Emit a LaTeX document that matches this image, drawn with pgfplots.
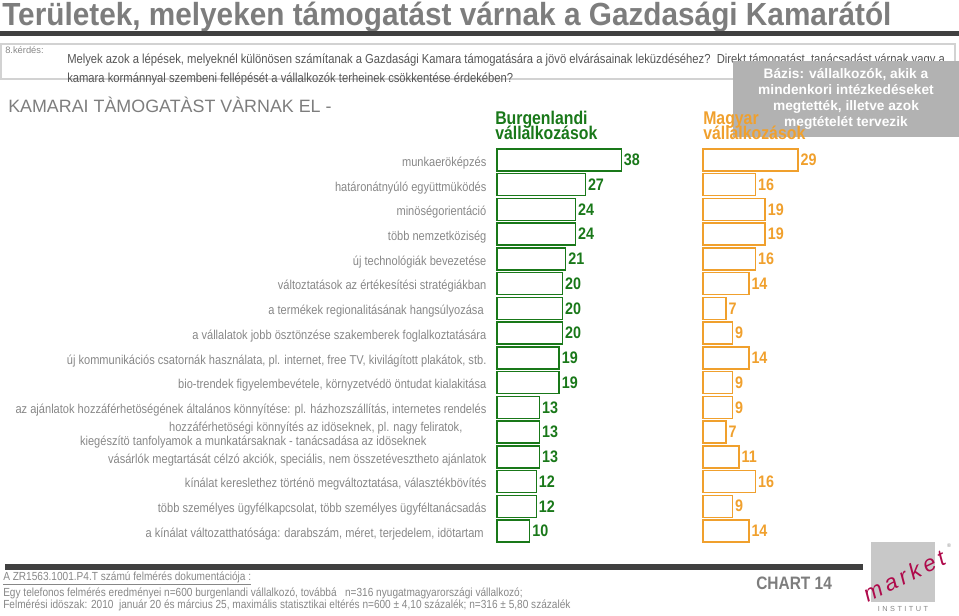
\documentclass[border=0pt]{standalone}
\usepackage{pgfplots}
\pgfplotsset{compat=1.18}
\usepackage{fontspec}
\setmainfont{Liberation Sans}
\newfontfamily\narrow[FakeStretch=0.86]{Liberation Sans}
\newfontfamily\titlefont[FakeStretch=0.93]{Liberation Sans}

\definecolor{titlegray}{RGB}{125,125,125}
\definecolor{darkbar}{RGB}{64,64,64}
\definecolor{labgray}{RGB}{135,135,135}
\definecolor{qgray}{RGB}{85,85,85}
\definecolor{boxgray}{RGB}{178,178,178}
\definecolor{gcol}{RGB}{25,120,25}
\definecolor{ocol}{RGB}{240,160,45}
\definecolor{logogray}{RGB}{200,200,200}
\definecolor{logored}{RGB}{175,10,75}

% values, top row first
\pgfplotstableread{
row burg magy
1  38 29
2  27 16
3  24 19
4  24 19
5  21 16
6  20 14
7  20 7
8  20 9
9  19 14
10 19 9
11 13 9
12 13 7
13 13 11
14 12 16
15 12 9
16 10 14
}\datatab

\pgfplotsset{
  panel/.style={
    anchor=north west,
    x=2.4525pt, y=18.55pt,
    xmin=0, xmax=40, ymin=0.5, ymax=16.5,
    y dir=reverse,
    xbar, bar width=16.5pt,
    clip=false,
    hide x axis,
    y axis line style={draw=none},
    ytick style={draw=none},
    ytick={1,...,16},
    nodes near coords,
    /pgf/number format/assume math mode=true,
    every node near coord/.append style={font=\narrow\bfseries\fontsize{12.5}{12.5}\selectfont, inner sep=1.5pt},
  },
}

\begin{document}
\begin{tikzpicture}[x=0.75pt,y=-0.75pt]
\useasboundingbox (0,0) rectangle (959,615);

% header
\node[anchor=base west, inner sep=0, text=titlegray, font=\titlefont\bfseries\fontsize{24}{24}\selectfont] at (2,25) {Területek, melyeken támogatást várnak a Gazdasági Kamarától};
\fill[darkbar] (0,30.5) rectangle (959,35.5);
\draw[gray!35, line width=0.8pt] (1,44) rectangle (955,79);
\node[anchor=base west, inner sep=0, text=labgray, font=\fontsize{7}{7}\selectfont] at (5,53) {8.kérdés:};
\node[anchor=base west, inner sep=0, text=qgray, font=\narrow\fontsize{9.8}{9.8}\selectfont] at (67,63) {Melyek azok a lépések, melyeknél különösen számítanak a Gazdasági Kamara támogatására a jövö elvárásainak leküzdéséhez?\ \ Direkt támogatást, tanácsadást várnak vagy a};
\node[anchor=base west, inner sep=0, text=qgray, font=\narrow\fontsize{9.8}{9.8}\selectfont] at (67,82) {kamara kormánnyal szembeni fellépését a vállalkozók terheinek csökkentése érdekében?};
\fill[boxgray] (733,61) rectangle (959,137);
\node[align=center, text=white, font=\bfseries\fontsize{10.3}{12}\selectfont] at (846,99) {Bázis: vállalkozók, akik a\\mindenkori intézkedéseket\\megtették, illetve azok\\megtételét tervezik};
\node[anchor=base west, inner sep=0, text=titlegray, font=\fontsize{13.4}{13.4}\selectfont] at (8,112) {KAMARAI TÀMOGATÀST VÀRNAK EL -};
\node[anchor=base west, inner sep=0, text=gcol, font=\narrow\bfseries\fontsize{13.8}{13.8}\selectfont] at (495,124) {Burgenlandi};
\node[anchor=base west, inner sep=0, text=gcol, font=\narrow\bfseries\fontsize{13.8}{13.8}\selectfont] at (495,139) {vállalkozások};
\node[anchor=base west, inner sep=0, text=ocol, font=\narrow\bfseries\fontsize{13.8}{13.8}\selectfont] at (703,124) {Magyar};
\node[anchor=base west, inner sep=0, text=ocol, font=\narrow\bfseries\fontsize{13.8}{13.8}\selectfont] at (703,139) {vállalkozások};

% Burgenland panel with the category names
\begin{axis}[panel, at={(372.75pt,-110.7pt)},
  every node near coord/.append style={text=gcol},
  yticklabel style={font=\narrow\fontsize{9.65}{10.5}\selectfont, text=labgray, align=right, inner sep=0pt, xshift=-3.5pt, yshift=-2.2pt},
  yticklabels={
    munkaeröképzés,
    határonátnyúló együttmüködés,
    minöségorientáció,
    több nemzetköziség,
    új technológiák bevezetése,
    változtatások az értékesítési stratégiákban,
    {a termékek regionalitásának hangsúlyozása\rule{2pt}{0pt}},
    a vállalatok jobb ösztönzése szakemberek foglalkoztatására,
    {új kommunikációs csatornák használata, pl. internet, free TV, kivilágított plakátok, stb.},
    {bio-trendek figyelembevétele, környzetvédö öntudat kialakitása},
    {az ajánlatok hozzáférhetöségének általános könnyítése: pl. házhozszállítás, internetes rendelés},
    {hozzáférhetöségi könnyítés az idöseknek, pl. nagy feliratok,\rule{18pt}{0pt}\\kiegészítö tanfolyamok a munkatársaknak - tanácsadása az idöseknek\rule{45pt}{0pt}},
    {vásárlók megtartását célzó akciók, speciális, nem összetévesztheto ajánlatok},
    {kínálat kereslethez történö megváltoztatása, választékbövítés},
    {több személyes ügyfélkapcsolat, több személyes ügyféltanácsadás},
    {a kínálat változatthatósága: darabszám, méret, terjedelem, idötartam\rule{2pt}{0pt}},
  },
]
\addplot[draw=gcol, fill=white, line width=1.1pt] table[x=burg, y=row] {\datatab};
\end{axis}

% Hungarian panel
\begin{axis}[panel, at={(527.25pt,-110.7pt)}, yticklabels={},
  every node near coord/.append style={text=ocol}]
\addplot[draw=ocol, fill=white, line width=1.1pt] table[x=magy, y=row] {\datatab};
\end{axis}

% footer
\fill[darkbar] (5,564) rectangle (863,570);
\node[anchor=base west, inner sep=0, text=labgray, font=\narrow\fontsize{8.8}{8.8}\selectfont] at (3,580) {\underline{A ZR1563.1001.P4.T számú felmérés dokumentációja :}};
\node[anchor=base west, inner sep=0, text=labgray, font=\narrow\fontsize{8.8}{8.8}\selectfont] at (3,596) {Egy telefonos felmérés eredményei n=600 burgenlandi vállalkozó, továbbá\ \ \ n=316 nyugatmagyarországi vállalkozó;};
\node[anchor=base west, inner sep=0, text=labgray, font=\narrow\fontsize{8.8}{8.8}\selectfont] at (3,608) {Felmérési idöszak: 2010\ \ január 20 és március 25, maximális statisztikai eltérés n=600 ± 4,10 százalék; n=316 ± 5,80 százalék};
\node[anchor=base west, inner sep=0, text=titlegray, font=\narrow\bfseries\fontsize{13.5}{13.5}\selectfont] at (756,589) {CHART 14};

% logo
\fill[logogray] (871,542) rectangle (935,602);
\node[rotate=26, text=logored, font=\itshape\fontsize{17}{17}\selectfont, inner sep=0] at (904,576) {m\,a\,r\,k\,e\,t};
\node[text=labgray, font=\fontsize{4}{4}\selectfont, inner sep=0] at (949,546) {®};
\node[text=labgray, font=\fontsize{5.5}{5.5}\selectfont, inner sep=0] at (903,609) {I\,\,N\,\,S\,\,T\,\,I\,\,T\,\,U\,\,T};
\end{tikzpicture}
\end{document}
